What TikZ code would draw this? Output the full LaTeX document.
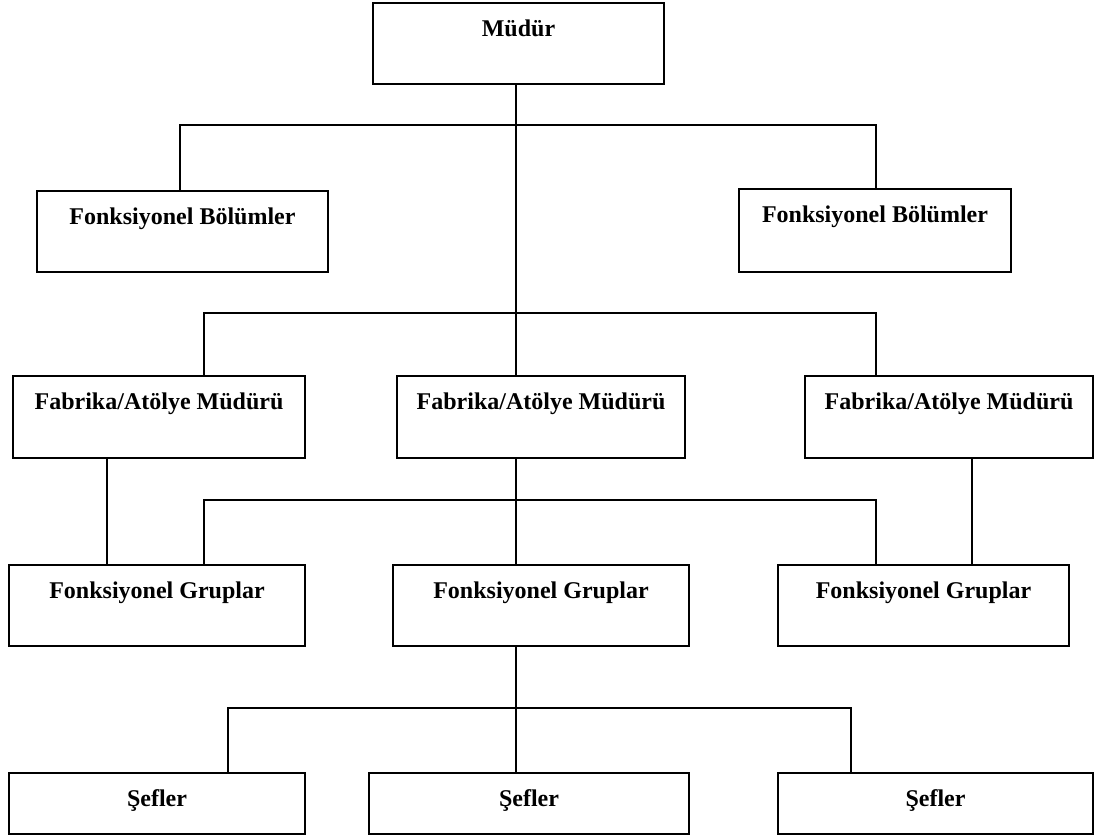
\documentclass[tikz,border=0pt]{standalone}
\usepackage{fontspec}
\setmainfont{Liberation Serif}
\begin{document}
\begin{tikzpicture}[x=1pt,y=-1pt,
  box/.style={draw, line width=2pt, inner sep=0pt, anchor=north west,
    text height=33pt, font=\bfseries\fontsize{24}{28}\selectfont},
  link/.style={line width=1.4pt}]
\useasboundingbox (0,0) rectangle (1094,836);

% boxes
\node[box, minimum width=291pt, text depth=48pt] (mudur) at (372,2) {Müdür};
\node[box, minimum width=291pt, text depth=48pt] (bolL) at (36,190) {Fonksiyonel Bölümler};
\node[box, minimum width=272pt, text depth=50pt] (bolR) at (738,188) {Fonksiyonel Bölümler};
\node[box, minimum width=292pt, text depth=49pt] (fabL) at (12,375) {Fabrika/Atölye Müdürü};
\node[box, minimum width=288pt, text depth=49pt] (fabM) at (396,375) {Fabrika/Atölye Müdürü};
\node[box, minimum width=288pt, text depth=49pt] (fabR) at (804,375) {Fabrika/Atölye Müdürü};
\node[box, minimum width=296pt, text depth=48pt] (grpL) at (8,564) {Fonksiyonel Gruplar};
\node[box, minimum width=296pt, text depth=48pt] (grpM) at (392,564) {Fonksiyonel Gruplar};
\node[box, minimum width=291pt, text depth=48pt] (grpR) at (777,564) {Fonksiyonel Gruplar};
\node[box, minimum width=296pt, text depth=28pt] (sefL) at (8,772) {Şefler};
\node[box, minimum width=320pt, text depth=28pt] (sefM) at (368,772) {Şefler};
\node[box, minimum width=315pt, text depth=28pt] (sefR) at (777,772) {Şefler};

% bus ends and drop positions
\coordinate (b1l) at (180,125);
\coordinate (b1r) at (876,125);
\coordinate (b2l) at (204,313);
\coordinate (b2r) at (876,313);
\coordinate (b3l) at (204,500);
\coordinate (b3r) at (876,500);
\coordinate (b4l) at (228,708);
\coordinate (b4r) at (851,708);
\coordinate (cl) at (107,0);
\coordinate (cr) at (972,0);
\coordinate (sp) at (516,0);

% connectors
\draw[link] (mudur.south -| sp) -- (fabM.north -| sp);
\draw[link] (bolL.north -| b1l) |- (b1r) -- (bolR.north -| b1r);
\draw[link] (fabL.north -| b2l) |- (b2r) -- (fabR.north -| b2r);
\draw[link] (fabM.south -| sp) -- (grpM.north -| sp);
\draw[link] (grpL.north -| b3l) |- (b3r) -- (grpR.north -| b3r);
\draw[link] (fabL.south -| cl) -- (grpL.north -| cl);
\draw[link] (fabR.south -| cr) -- (grpR.north -| cr);
\draw[link] (grpM.south -| sp) -- (sefM.north -| sp);
\draw[link] (sefL.north -| b4l) |- (b4r) -- (sefR.north -| b4r);
\end{tikzpicture}
\end{document}
